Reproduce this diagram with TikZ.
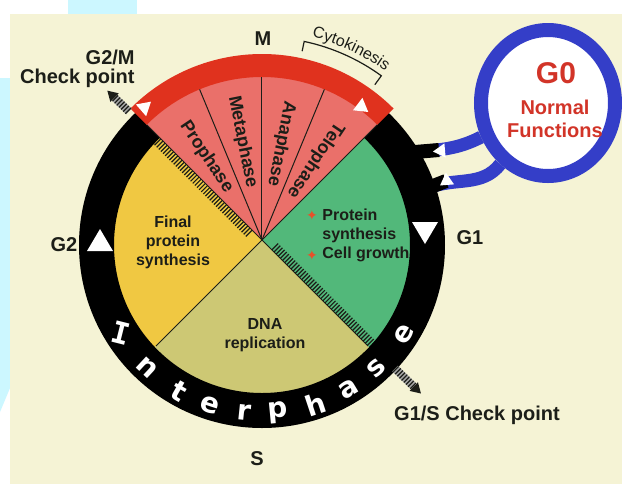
\documentclass[tikz,border=0pt]{standalone}
\usepackage{fontspec}
\setmainfont{Liberation Sans}
\newfontfamily\ringfont{DejaVu Sans}
\newfontfamily\ringcap{DejaVu Sans Mono}
\usetikzlibrary{positioning,calc,shapes.geometric,decorations.text}

\definecolor{paper}{RGB}{245,243,213}
\definecolor{edgecyan}{RGB}{204,247,255}
\definecolor{ink}{RGB}{28,30,24}
\definecolor{mpink}{RGB}{234,112,106}
\definecolor{mred}{RGB}{224,50,30}
\definecolor{g1green}{RGB}{82,184,122}
\definecolor{stan}{RGB}{205,200,116}
\definecolor{g2yellow}{RGB}{240,200,66}
\definecolor{armblue}{RGB}{52,62,200}
\definecolor{g0red}{RGB}{210,52,40}
\definecolor{bulletred}{RGB}{232,80,42}

\tikzset{
  lab/.style={font=\bfseries\fontsize{10}{9.5}\selectfont, text=ink, inner sep=0pt, align=center},
  sectortext/.style={font=\bfseries\fontsize{8}{9.5}\selectfont, text=ink, inner sep=0pt, align=center},
  phase/.style={font=\bfseries\fontsize{9}{10}\selectfont, text=ink, inner sep=0pt},
  ringletter/.style={font=\ringfont\bfseries\fontsize{14}{14}\selectfont, text=white, inner sep=0pt},
  bulletmark/.style={font=\ringfont\fontsize{7}{7}\selectfont, text=bulletred, inner sep=0pt},
  g0text/.style={font=\bfseries, text=g0red, inner sep=0pt, align=center},
  divider/.style={ink, line width=0.5pt},
  hatch/.style={ink, line width=0.6pt},
  arm/.style={draw=armblue, line width=6.5pt},
  armroot/.style={draw=black, line width=7pt},
  g0ring/.style={ellipse, draw=armblue, line width=7pt, fill=white,
    minimum width=67pt, minimum height=73pt, inner sep=0pt}
}
% white flow arrow on the ring: position, direction, size
\newcommand{\flowtri}[3]{\fill[white, shift={#1}, rotate=#2, scale=#3] (11,0) -- (-11,13) -- (-11,-13) -- cycle;}
% hatched checkpoint bar outside the ring: angle, end radius
\newcommand{\checkbar}[2]{%
  \begin{scope}[rotate=#1]
    \fill[black!35] (185,-4) rectangle (#2+1,4);
    \foreach \r in {186,189,...,#2} \draw[hatch] (\r,-4) -- (\r,4);
    \fill[ink] (#2+1,-6) -- (#2+11,0) -- (#2+1,6) -- cycle;
  \end{scope}}

\begin{document}
\begin{tikzpicture}[x=0.5pt, y=0.5pt]
  \useasboundingbox (-262,-244) rectangle (360,240);
  \fill[white] (-262,-244) rectangle (360,240);
  \fill[paper] (-252,-244) rectangle (360,226);
  \fill[edgecyan] (-194,226) rectangle (-125,240);
  \fill[edgecyan] (-262,162) -- (-252,162) -- (-252,-148) -- (-262,-172) -- cycle;

  % interphase sectors
  \fill[g2yellow] (0,0) -- (135:156) arc[start angle=135, end angle=225, radius=156] -- cycle;
  \fill[stan] (0,0) -- (225:160) arc[start angle=225, end angle=315, radius=160] -- cycle;
  \fill[g1green] (0,0) -- (-45:156) arc[start angle=-45, end angle=45, radius=156] -- cycle;

  % checkpoint strips
  \begin{scope}[rotate=135]
    \foreach \r in {14,17,...,152} \draw[hatch] (\r,0) -- (\r,9);
  \end{scope}
  \begin{scope}[rotate=-45]
    \foreach \r in {14,17,...,152} \draw[hatch] (\r,0) -- (\r,9);
  \end{scope}

  % G0 and its two arms
  \node[g0ring] (g0) at (286,137) {};
  \coordinate (armA) at (153,88);
  \coordinate (armB) at (166,52);
  \draw[arm] (armA) to[out=5, in=207] (g0.207);
  \draw[arm] (armB) to[out=22, in=232] (g0.232);

  % ring
  \fill[black, even odd rule] (0,-5) circle[radius=183] (0,-5) circle[radius=148];
  \draw[armroot] (armA) -- ++(24,2);
  \draw[armroot] (armB) -- ++(18,7);
  \flowtri{(177,89)}{185}{0.55}
  \flowtri{(183,58)}{215}{0.55}

  % mitosis wedge
  \fill[mpink] (0,0) -- (45:164) arc[start angle=45, end angle=135, radius=164] -- cycle;
  \fill[mred] (45:163) arc[start angle=45, end angle=135, radius=163]
    -- (135:186) arc[start angle=135, end angle=45, radius=186] -- cycle;
  \draw[divider] (0,0) -- (45:163);
  \draw[divider] (0,0) -- (67.5:163);
  \draw[divider] (0,0) -- (90:163);
  \draw[divider] (0,0) -- (112.5:163);
  \draw[divider] (0,0) -- (135:163);
  \draw[divider] (0,0) -- (225:150);
  \draw[divider] (0,0) -- (315:150);

  \node[phase, rotate=-56.25] (pro) at (123.75:100) {Prophase};
  \node[phase, rotate=-78.75] (meta) at (101.25:100) {Metaphase};
  \node[phase, rotate=-101.25] (ana) at (78.75:98) {Anaphase};
  \node[phase, rotate=-123.75] (telo) at (56.25:96) {Telophase};

  % flow arrows
  \flowtri{(-162,0)}{90}{1}
  \flowtri{(163,7)}{-90}{1}
  \flowtri{(-116,134)}{41}{0.6}
  \flowtri{(101,132)}{-37}{0.6}

  \checkbar{136}{204}
  \checkbar{-44}{210}

  % Interphase lettering
  \begin{scope}[shift={(0,-5)}]
    \node[ringletter, font=\ringcap\bfseries\fontsize{15}{15}\selectfont, rotate=-14] (int0) at (212:166) {I};
    \foreach \ch/\a [count=\i] in {n/227, t/240.5, e/252, r/264, p/275.5, h/288.5, a/301, s/313, e/328}
      \node[ringletter, rotate=\a+90] (int\i) at (\a:168) {\ch};
  \end{scope}

  % cytokinesis bracket
  \draw[ink, line width=0.6pt] (78:193) -- (78:203) arc[start angle=78, end angle=54, radius=203] -- (54:192);
  \path[decorate, decoration={text along path, text align=center,
      text={|\fontsize{8}{9}\selectfont\color{ink}|Cytokinesis}}]
    (80:209) arc[start angle=80, end angle=50, radius=209];

  % labels
  \node[lab] (mlabel) at (1,201) {M};
  \node[lab, anchor=east, align=right] (g2m) at (-127,171) {G2/M\\Check point};
  \node[lab] (g2) at (-198,-5) {G2};
  \node[lab] (g1) at (208,2) {G1};
  \node[lab] (slabel) at (-5,-219) {S};
  \node[lab] (g1s) at (215,-175) {G1/S Check point};

  \node[sectortext] (final) at (-89,-2) {Final\\protein\\synthesis};
  \node[sectortext] (dna) at (3,-95) {DNA\\replication};
  \node[sectortext, align=left, anchor=west] (growth) at (60,5) {Protein\\synthesis\\Cell growth};
  \node[bulletmark] (dot1) at (50,25) {✦};
  \node[bulletmark] (dot2) at (50,-15) {✦};

  \node[g0text, font=\bfseries\fontsize{15}{15}\selectfont] (g0name) at (294,167) {G0};
  \node[g0text, font=\bfseries\fontsize{10}{11.5}\selectfont] (g0role) at (293,121) {Normal\\Functions};
\end{tikzpicture}
\end{document}
